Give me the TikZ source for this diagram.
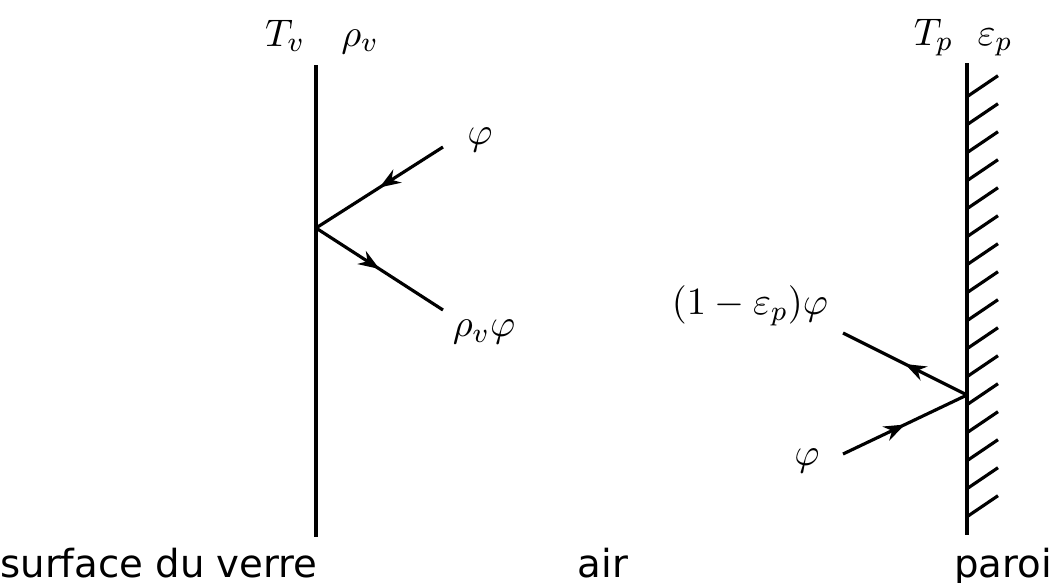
\documentclass[tikz,border=0pt]{standalone}
\usepackage{amsmath,amssymb}
\usepackage{fontspec}
\usepackage{tikz}
\usetikzlibrary{arrows.meta,calc,decorations.markings}
\newfontfamily\labelfont{DejaVu Sans}

\begin{document}
\begin{tikzpicture}[
    every node/.style={font=\fontsize{10.8}{13}\selectfont},
    wall/.style={line width=0.9pt},
    ray/.style={line width=0.9pt,
      postaction={decorate},
      decoration={markings,
        mark=at position 0.5 with {\arrow{Stealth[length=6pt,width=4.4pt]}}}},
    medium/.style={font=\labelfont\fontsize{11}{13}\selectfont,anchor=base}
  ]
  \useasboundingbox (0,0) rectangle (10.56,5.82);

  % Glass surface
  \coordinate (Vtop) at (3.16,5.17);
  \coordinate (Vbot) at (3.16,0.45);
  \draw[wall] (Vtop) -- (Vbot);
  \node[anchor=base] (Tv) at (2.85,5.36) {$T_v$};
  \node[anchor=base] (rhov) at (3.60,5.36) {$\rho_v$};

  % Reflection on the glass
  \coordinate (Rv) at (3.16,3.54);
  \coordinate (Vin) at (4.43,4.35);
  \coordinate (Vout) at (4.43,2.72);
  \draw[ray] (Vin) -- (Rv);
  \draw[ray] (Rv) -- (Vout);
  \node (phiv) at (4.80,4.42) {$\varphi$};
  \node (rphiv) at (4.84,2.50) {$\rho_v\varphi$};

  % Wall
  \coordinate (Ptop) at (9.67,5.19);
  \coordinate (Pbot) at (9.67,0.47);
  \draw[wall] (Ptop) -- (Pbot);
  \foreach \k in {0,...,15}
    \draw[wall] (9.67,4.853-0.28*\k) -- ++(0.31,0.21);
  \node[anchor=base] (Tp) at (9.335,5.37) {$T_p$};
  \node[anchor=base] (epsp) at (9.95,5.37) {$\varepsilon_p$};

  % Reflection on the wall
  \coordinate (Rp) at (9.67,1.87);
  \coordinate (Pin) at (8.43,1.28);
  \coordinate (Pout) at (8.43,2.49);
  \draw[ray] (Pin) -- (Rp);
  \draw[ray] (Rp) -- (Pout);
  \node (rphip) at (7.50,2.76) {$(1-\varepsilon_p)\varphi$};
  \node (phip) at (8.07,1.21) {$\varphi$};

  % Media
  \node[medium] (verre) at (1.59,0.05) {surface du verre};
  \node[medium] (air) at (6.03,0.05) {air};
  \node[medium] (paroi) at (10.03,0.05) {paroi};
\end{tikzpicture}
\end{document}
